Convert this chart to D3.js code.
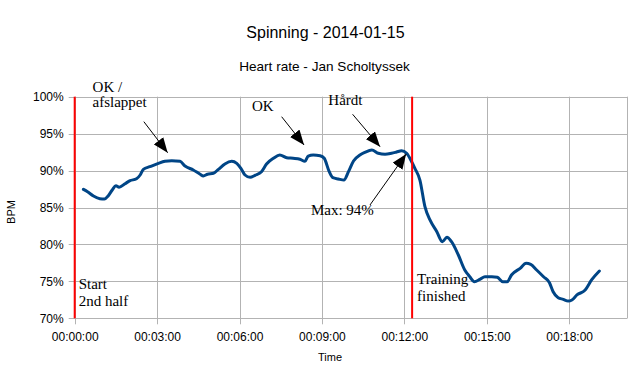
<!DOCTYPE html>
<html>
<head>
<meta charset="utf-8">
<script src="https://cdn.jsdelivr.net/npm/d3@7"></script>
<style>
  html, body { margin: 0; padding: 0; background: #fff; }
  svg { display: block; }
</style>
</head>
<body>
<svg id="chart" width="636" height="368"></svg>
<script>
// ---- DATA ----
const title = "Spinning - 2014-01-15";
const subtitle = "Heart rate - Jan Scholtyssek";
const xAxisTitle = "Time";
const yAxisTitle = "BPM";

// elapsed seconds
const timeSec = [19, 28, 41, 55, 65, 73, 82, 90, 97, 110, 121, 135, 143, 150, 164, 183, 197, 212, 230, 241,
  259, 274, 281, 290, 303, 314, 328, 343, 354, 363, 372, 383, 394, 408, 419, 434, 448, 463, 477, 492,
  503, 510, 521, 536, 545, 556, 564, 576, 588, 598, 609, 623, 634, 649, 663, 678, 692, 703, 714, 725,
  736, 743, 754, 765, 776, 791, 803, 813, 823, 838, 852, 863, 873, 885, 896, 911, 923, 935, 945, 954,
  973, 986, 996, 1009, 1024, 1037, 1045, 1056, 1067, 1078, 1086, 1097, 1115, 1129, 1146];
// heart rate in % of max
const heartRate = [87.46, 87.14, 86.56, 86.19, 86.15, 86.56, 87.37, 87.95, 87.74, 88.22, 88.63, 88.90, 89.40, 90.17, 90.52, 90.98, 91.25, 91.34, 91.25, 90.62,
  90.08, 89.50, 89.27, 89.50, 89.63, 90.17, 90.89, 91.25, 90.98, 90.31, 89.40, 89.09, 89.36, 89.85, 90.89, 91.66, 92.11, 91.74, 91.66, 91.53,
  91.25, 91.97, 92.11, 92.01, 91.66, 89.85, 89.03, 88.86, 88.72, 89.85, 91.30, 92.11, 92.47, 92.78, 92.34, 92.20, 92.34, 92.51, 92.69, 92.34,
  91.20, 90.31, 88.72, 85.11, 83.31, 81.72, 80.37, 80.97, 80.37, 78.57, 76.54, 75.63, 74.96, 75.28, 75.63, 75.63, 75.55, 74.96, 74.96, 75.86,
  76.77, 77.45, 77.31, 76.54, 75.63, 74.82, 73.60, 72.79, 72.57, 72.34, 72.48, 73.16, 73.83, 75.19, 76.40];

const xTickSec = [0, 180, 360, 540, 720, 900, 1080];
const xTickLabels = ["00:00:00", "00:03:00", "00:06:00", "00:09:00", "00:12:00", "00:15:00", "00:18:00"];
const yTickValues = [70, 75, 80, 85, 90, 95, 100];
const yTickLabels = ["70%", "75%", "80%", "85%", "90%", "95%", "100%"];

// vertical markers (seconds)
const markerSec = [0, 737];
const markerLabels = [["Start", "2nd half"], ["Training", "finished"]];

// annotations: text lines, text anchor (sec, %), arrow from (sec, %) to (sec, %)
const noteLines = [["OK /", "afslappet"], ["OK"], ["Hårdt"], ["Max: 94%"]];
const noteTextSec = [39, 387, 554, 516];
const noteTextPct = [100.68, 98.10, 98.88, 83.99];
const arrowFromSec = [151, 452, 607, 645];
const arrowFromPct = [96.62, 97.29, 97.62, 85.34];
const arrowToSec = [203, 501, 667, 724];
const arrowToPct = [92.42, 93.46, 93.23, 92.24];

// ---- LAYOUT ----
const W = 636, H = 368;
const margin = {left: 74.7, right: 8.7, top: 96.7, bottom: 49.7};
const svg = d3.select("#chart");
const x = d3.scaleLinear().domain([0, 1207]).range([margin.left, W - margin.right]);
const y = d3.scaleLinear().domain([70, 100]).range([H - margin.bottom, margin.top]);
const grid = "#b3b3b3";
const sans = "'Liberation Sans', Arial, sans-serif";
const serif = "'Liberation Serif', 'Times New Roman', serif";

// titles
svg.append("text").attr("x", 325.5).attr("y", 37.7).attr("text-anchor", "middle")
  .style("font-family", sans).style("font-size", "16px").attr("fill", "#000").text(title);
svg.append("text").attr("x", 324.5).attr("y", 70.7).attr("text-anchor", "middle")
  .style("font-family", sans).style("font-size", "13.6px").attr("fill", "#000").text(subtitle);

// gridlines
const gx = svg.append("g");
gx.selectAll("line.h").data(yTickValues).join("line")
  .attr("x1", x(0) - 6).attr("x2", x.range()[1])
  .attr("y1", d => Math.round(y(d)) + 0.5).attr("y2", d => Math.round(y(d)) + 0.5)
  .attr("stroke", grid).attr("stroke-width", 1);
gx.selectAll("line.v").data(xTickSec).join("line")
  .attr("x1", d => Math.round(x(d)) + 0.5).attr("x2", d => Math.round(x(d)) + 0.5)
  .attr("y1", y(100)).attr("y2", y(70) + 6)
  .attr("stroke", grid).attr("stroke-width", 1);
// right border
gx.append("line").attr("x1", Math.round(x.range()[1]) + 0.5).attr("x2", Math.round(x.range()[1]) + 0.5)
  .attr("y1", y(100)).attr("y2", y(70)).attr("stroke", grid);

// axes using d3 axis for labels
const xAxis = d3.axisBottom(x).tickValues(xTickSec)
  .tickFormat((d, i) => xTickLabels[i]).tickSize(0).tickPadding(14);
const gxa = svg.append("g").attr("transform", `translate(0,${y(70)})`).call(xAxis);
gxa.select(".domain").remove();
gxa.selectAll("text").style("font-family", sans).style("font-size", "12px").attr("fill", "#000");

const yAxis = d3.axisLeft(y).tickValues(yTickValues)
  .tickFormat((d, i) => yTickLabels[i]).tickSize(0).tickPadding(11);
const gya = svg.append("g").attr("transform", `translate(${x(0)},0)`).call(yAxis);
gya.select(".domain").remove();
gya.selectAll("text").style("font-family", sans).style("font-size", "12px").attr("fill", "#000");

// axis titles
svg.append("text").attr("x", 330).attr("y", 360.7).attr("text-anchor", "middle")
  .style("font-family", sans).style("font-size", "11px").attr("fill", "#000").text(xAxisTitle);
svg.append("text").attr("transform", "translate(15,212) rotate(-90)").attr("text-anchor", "middle")
  .style("font-family", sans).style("font-size", "11px").attr("fill", "#000").text(yAxisTitle);

// data line
const pts = timeSec.map((t, i) => [t, heartRate[i]]);
const line = d3.line().x(d => x(d[0])).y(d => y(d[1])).curve(d3.curveMonotoneX);
svg.append("path").datum(pts).attr("d", line)
  .attr("fill", "none").attr("stroke", "#004586").attr("stroke-width", 3)
  .attr("stroke-linejoin", "round").attr("stroke-linecap", "round");

// red markers
markerSec.forEach((s, i) => {
  svg.append("line").attr("x1", x(s)).attr("x2", x(s)).attr("y1", y(100)).attr("y2", y(70))
    .attr("stroke", "#ff0000").attr("stroke-width", 2);
  const t = svg.append("text").attr("x", x(s) + 4).attr("y", y(i === 0 ? 73.93 : 74.64))
    .style("font-family", serif).style("font-size", "15px").attr("fill", "#000");
  markerLabels[i].forEach((l, j) => {
    t.append("tspan").attr("x", x(s) + (i === 0 ? 4 : 5)).attr("dy", j === 0 ? 0 : 16.5).text(l);
  });
});

// arrow marker
const defs = svg.append("defs");
defs.append("marker").attr("id", "ah").attr("markerUnits", "userSpaceOnUse")
  .attr("markerWidth", 16).attr("markerHeight", 12).attr("refX", 15).attr("refY", 6)
  .attr("orient", "auto")
  .append("path").attr("d", "M0,0 L15,6 L0,12 Z").attr("fill", "#000");

// annotations
noteLines.forEach((lines, i) => {
  const t = svg.append("text").attr("x", x(noteTextSec[i])).attr("y", y(noteTextPct[i]))
    .style("font-family", serif).style("font-size", "15px").attr("fill", "#000");
  lines.forEach((l, j) => {
    t.append("tspan").attr("x", x(noteTextSec[i])).attr("dy", j === 0 ? 0 : 15.5).text(l);
  });
  svg.append("line")
    .attr("x1", x(arrowFromSec[i])).attr("y1", y(arrowFromPct[i]))
    .attr("x2", x(arrowToSec[i])).attr("y2", y(arrowToPct[i]))
    .attr("stroke", "#000").attr("stroke-width", 1).attr("marker-end", "url(#ah)");
});
</script>
</body>
</html>
